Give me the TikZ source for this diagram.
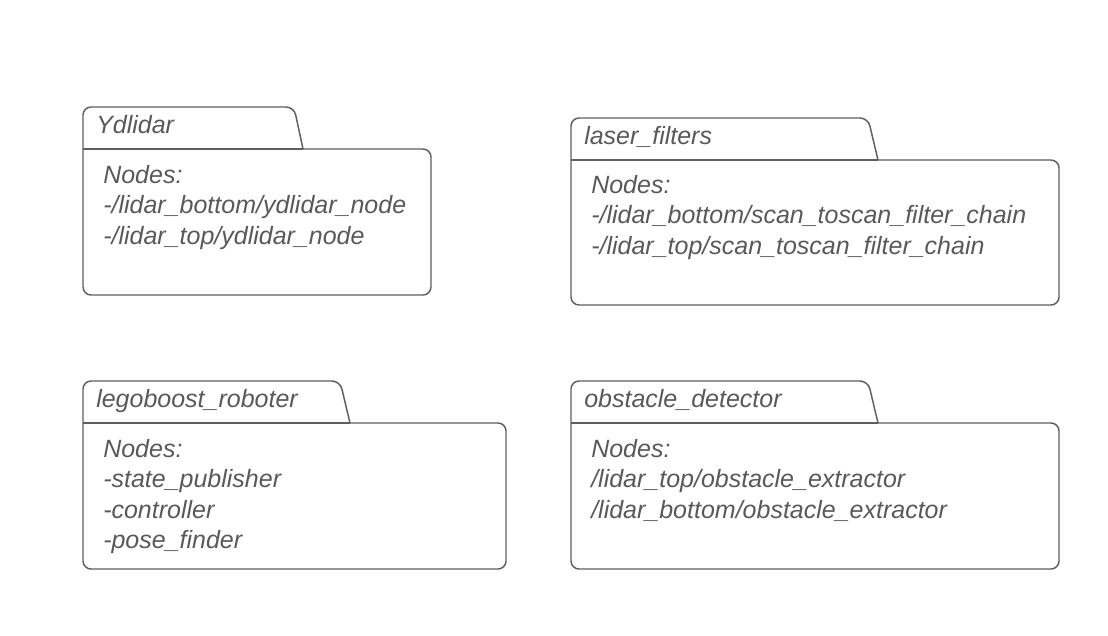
\documentclass[tikz,border=0pt]{standalone}
\usepackage{fontspec}
\setmainfont{Liberation Sans}
\usetikzlibrary{calc}
\definecolor{pkgline}{HTML}{5E5E5E}
\definecolor{pkgtext}{HTML}{595959}

\tikzset{
  pkgshape/.style={draw=pkgline, line width=1.1pt, rounded corners=6pt},
  pkgtitle/.style={anchor=base west, inner sep=0pt, text=pkgtext,
    font=\itshape\fontsize{18.75}{22}\selectfont},
}

\begin{document}
\begin{tikzpicture}[x=0.75pt,y=-0.75pt]
	\useasboundingbox (0,0) rectangle (1108,636);

	% Ydlidar
	\coordinate (ydTab) at (83,107);
	\coordinate (ydBody) at (83,149);
	\coordinate (ydBot) at (431,295);
	\draw[pkgshape] (303,149) -- (ydBot |- ydBody) -- (ydBot) -- (ydBody |- ydBot)
		-- (ydTab) -- (294,107) -- (303,149);
	\draw[pkgshape] (ydBody) -- (303,149);
	\node[pkgtitle] (ydTitle) at (96,133) {Ydlidar};
	\node[pkgtitle] (ydL1) at (103,183) {Nodes:};
	\node[pkgtitle] (ydL2) at (103,213.5) {-/lidar\_bottom/ydlidar\_node};
	\node[pkgtitle] (ydL3) at (103,244) {-/lidar\_top/ydlidar\_node};

	% laser_filters
	\coordinate (lfTab) at (571,118);
	\coordinate (lfBody) at (571,160);
	\coordinate (lfBot) at (1059,305);
	\draw[pkgshape] (878,160) -- (lfBot |- lfBody) -- (lfBot) -- (lfBody |- lfBot)
		-- (lfTab) -- (868,118) -- (878,160);
	\draw[pkgshape] (lfBody) -- (878,160);
	\node[pkgtitle] (lfTitle) at (584,144) {laser\_filters};
	\node[pkgtitle] (lfL1) at (591,193) {Nodes:};
	\node[pkgtitle] (lfL2) at (591,223.5) {-/lidar\_bottom/scan\_toscan\_filter\_chain};
	\node[pkgtitle] (lfL3) at (591,254) {-/lidar\_top/scan\_toscan\_filter\_chain};

	% legoboost_roboter
	\coordinate (lbTab) at (83,381);
	\coordinate (lbBody) at (83,423);
	\coordinate (lbBot) at (506,569);
	\draw[pkgshape] (350,423) -- (lbBot |- lbBody) -- (lbBot) -- (lbBody |- lbBot)
		-- (lbTab) -- (340,381) -- (350,423);
	\draw[pkgshape] (lbBody) -- (350,423);
	\node[pkgtitle] (lbTitle) at (96,407) {legoboost\_roboter};
	\node[pkgtitle] (lbL1) at (103,457) {Nodes:};
	\node[pkgtitle] (lbL2) at (103,487.5) {-state\_publisher};
	\node[pkgtitle] (lbL3) at (103,518) {-controller};
	\node[pkgtitle] (lbL4) at (103,548.5) {-pose\_finder};

	% obstacle_detector
	\coordinate (odTab) at (571,381);
	\coordinate (odBody) at (571,423);
	\coordinate (odBot) at (1059,569);
	\draw[pkgshape] (878,423) -- (odBot |- odBody) -- (odBot) -- (odBody |- odBot)
		-- (odTab) -- (868,381) -- (878,423);
	\draw[pkgshape] (odBody) -- (878,423);
	\node[pkgtitle] (odTitle) at (584,407) {obstacle\_detector};
	\node[pkgtitle] (odL1) at (591,457) {Nodes:};
	\node[pkgtitle] (odL2) at (591,487.5) {/lidar\_top/obstacle\_extractor};
	\node[pkgtitle] (odL3) at (591,518) {/lidar\_bottom/obstacle\_extractor};
\end{tikzpicture}
\end{document}
